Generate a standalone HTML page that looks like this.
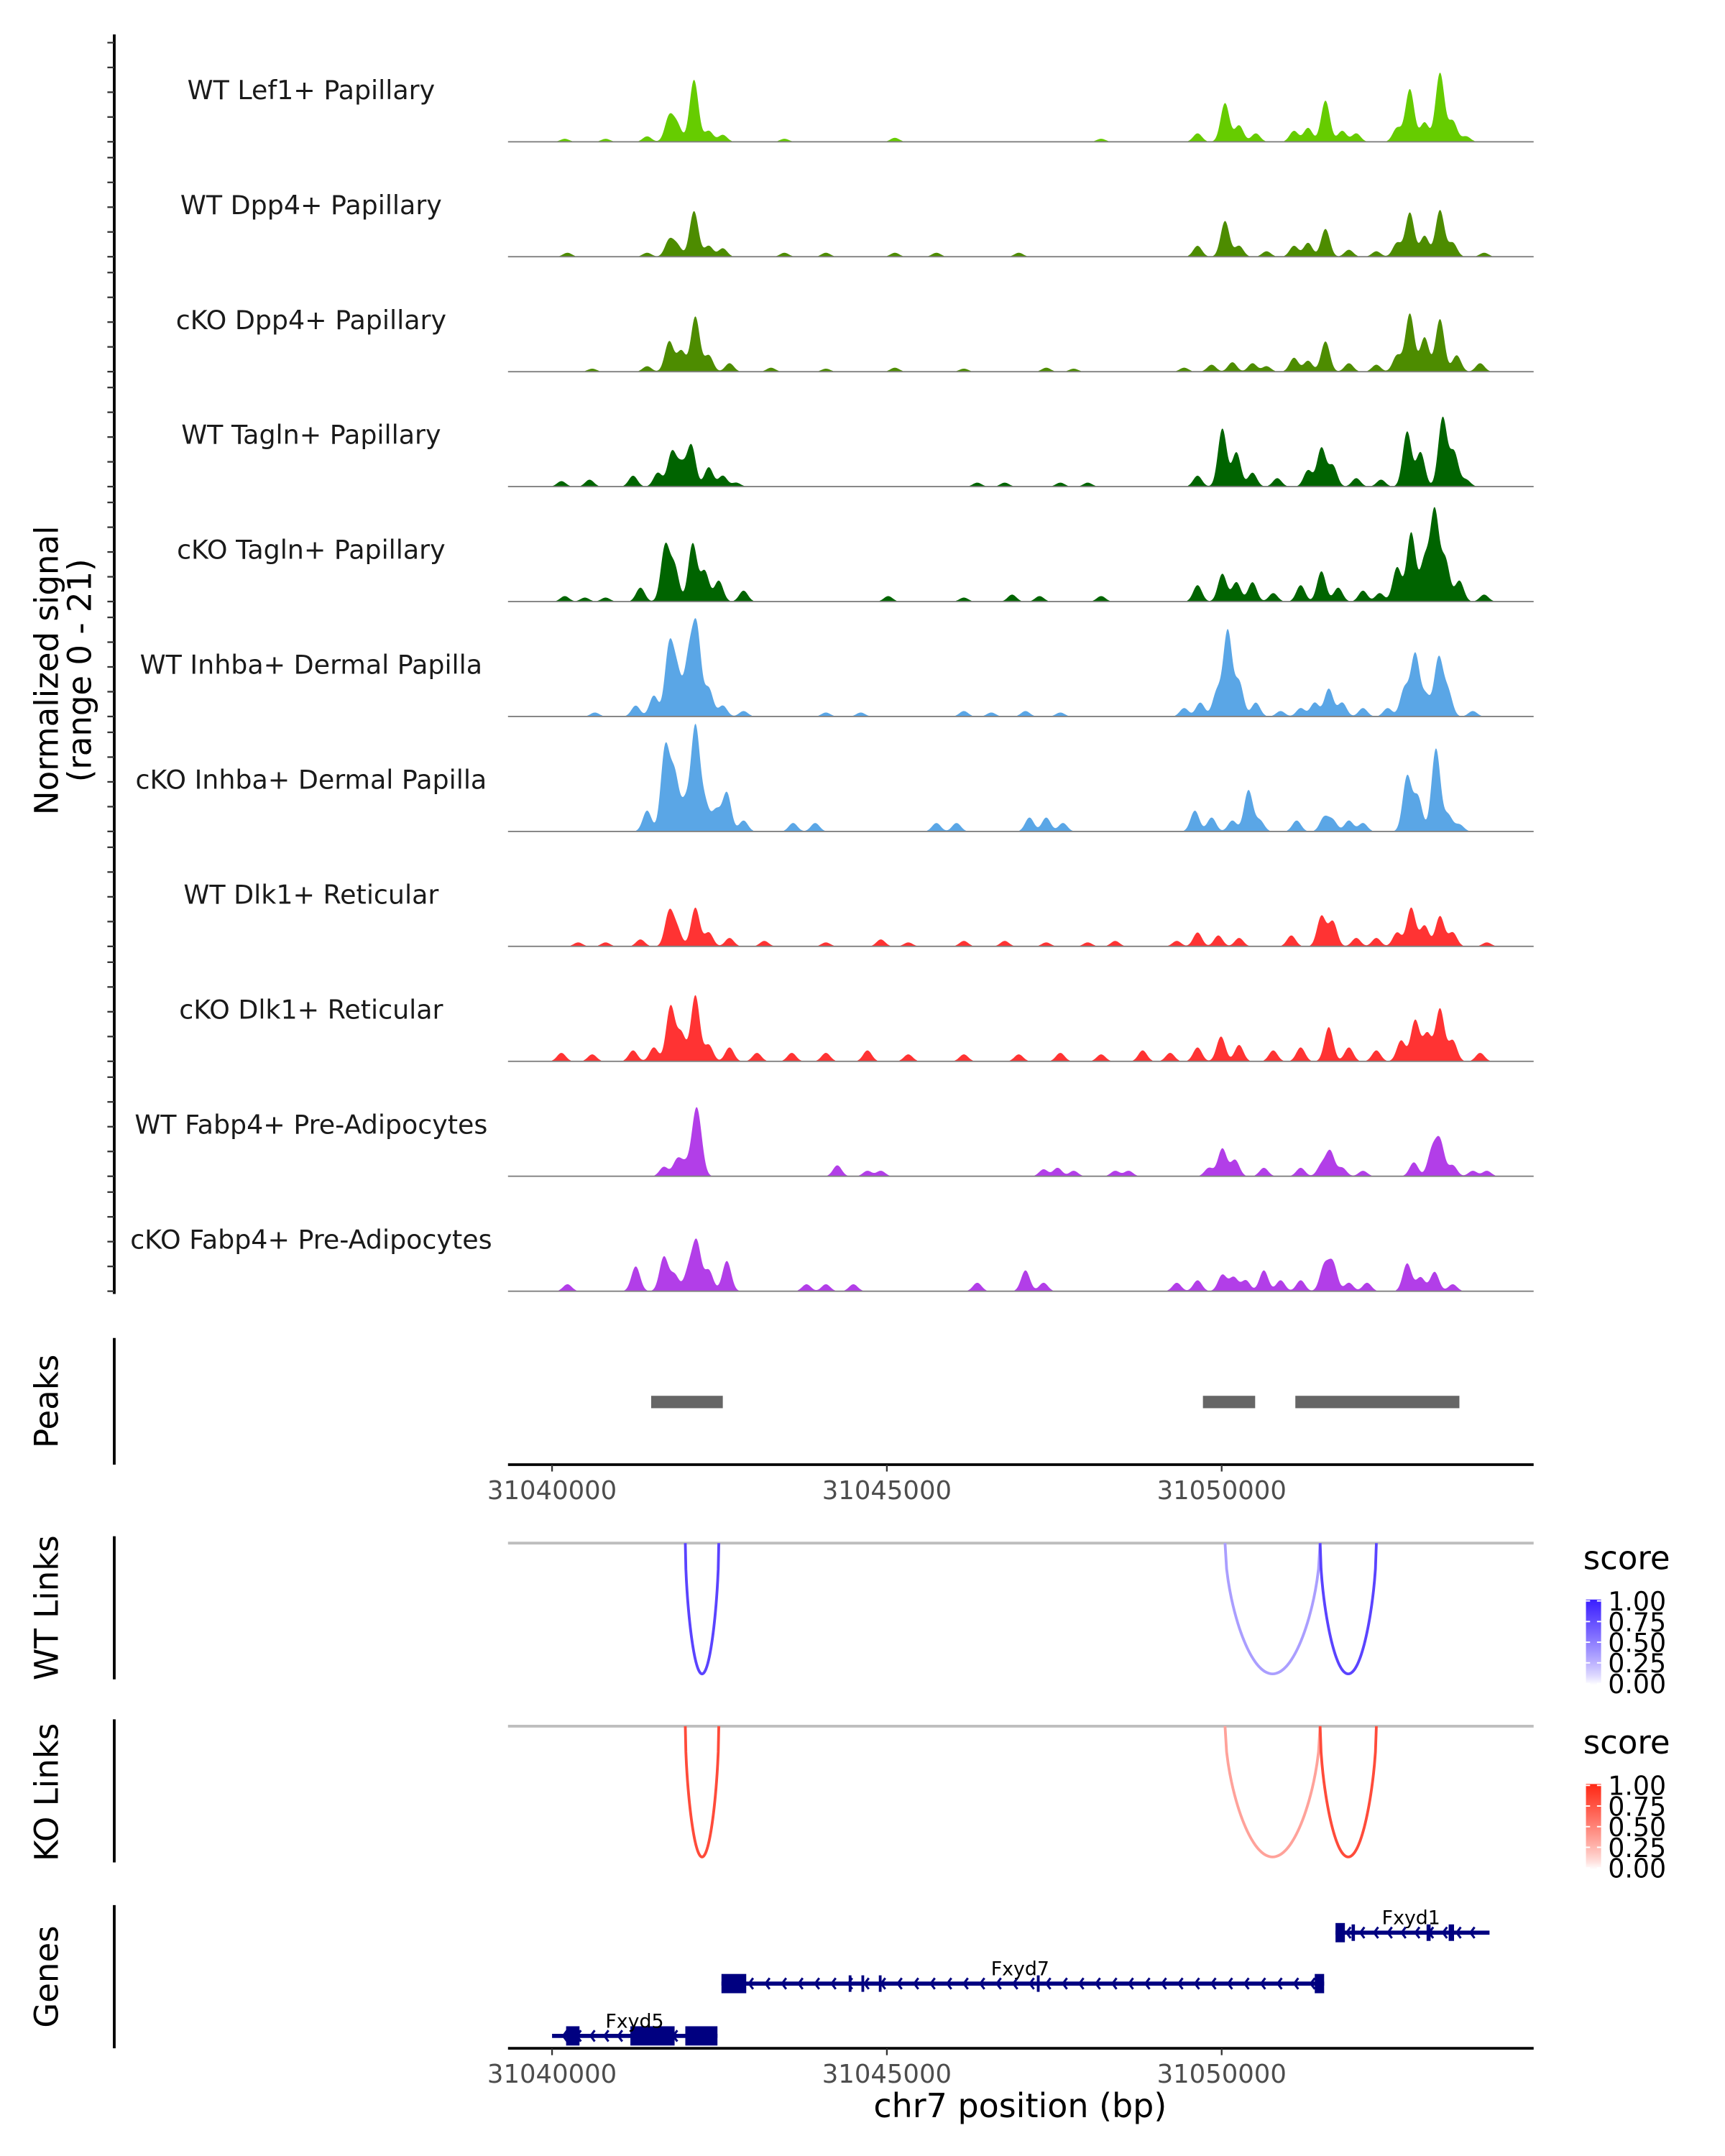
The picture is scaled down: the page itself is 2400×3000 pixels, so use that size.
<!DOCTYPE html>
<html><head><meta charset="utf-8"><style>
html,body{margin:0;padding:0;background:#fff;}
svg{display:block;font-family:"DejaVu Sans","Liberation Sans",sans-serif;}
</style></head><body>
<svg id="chart" width="2400" height="3000" viewBox="0 0 1253 1566.25" xmlns="http://www.w3.org/2000/svg">
<g id="g"></g>
</svg>
<script>
// ---------- data (positions in kb offset from 31,040,000 bp; signal in normalized units) ----------
const trackNames = ["WT Lef1+ Papillary","WT Dpp4+ Papillary","cKO Dpp4+ Papillary","WT Tagln+ Papillary","cKO Tagln+ Papillary","WT Inhba+ Dermal Papilla","cKO Inhba+ Dermal Papilla","WT Dlk1+ Reticular","cKO Dlk1+ Reticular","WT Fabp4+ Pre-Adipocytes","cKO Fabp4+ Pre-Adipocytes"];
const trackColors = ["#66cc00","#4d8c00","#4d8c00","#006400","#006400","#5aa6e6","#5aa6e6","#ff3333","#ff3333","#b23ee8","#b23ee8"];
const peaksPos1 = [1.42,1.75,1.87,2.12,2.34,2.55,0.19,0.80,3.47,5.12,8.20,9.64,10.05,10.26,10.51,11.08,11.29,11.55,11.80,12.01,12.62,12.81,13.03,13.26,13.45,13.65];
const peaksVal1 = [1.1,5.0,3.3,12.5,2.2,1.4,0.6,0.6,0.6,0.8,0.6,1.7,7.8,3.3,1.7,2.2,2.8,8.3,2.2,1.7,2.8,10.6,3.9,13.9,4.2,1.1];
const peaksPos2 = [0.23,1.42,1.75,1.87,2.12,2.34,2.55,3.47,4.09,5.12,5.74,6.97,9.64,10.05,10.26,10.67,11.08,11.29,11.55,11.90,12.31,12.62,12.81,13.03,13.26,13.45,13.92];
const peaksVal2 = [0.8,0.8,3.3,2.2,9.2,2.2,1.7,0.8,0.8,0.8,0.8,0.8,2.2,7.2,2.2,1.1,2.2,2.8,5.6,1.4,1.1,2.8,8.9,4.2,9.4,2.8,0.8];
const peaksPos3 = [0.60,1.42,1.75,1.93,2.14,2.34,2.65,3.27,4.09,5.12,6.15,7.38,7.79,9.44,9.85,10.16,10.46,10.67,11.08,11.29,11.55,11.90,12.31,12.62,12.81,13.03,13.26,13.51,13.86];
const peaksVal3 = [0.6,1.1,6.1,4.2,11.1,3.3,1.7,0.8,0.6,0.8,0.6,0.8,0.6,0.8,1.4,1.9,1.7,1.1,2.8,2.2,6.1,1.7,1.4,3.3,11.7,6.9,10.6,3.3,1.7];
const peaksPos4 = [0.14,0.56,1.21,1.58,1.79,1.93,2.08,2.34,2.55,2.75,6.35,6.76,7.59,8.00,9.64,10.01,10.22,10.46,10.83,11.29,11.49,11.66,12.01,12.38,12.77,12.97,13.30,13.47,13.65];
const peaksVal4 = [1.1,1.4,2.2,2.8,6.9,4.2,8.3,3.9,2.2,0.8,0.8,0.8,0.8,0.8,2.2,11.7,6.9,2.8,1.7,3.3,7.8,4.2,1.7,1.4,11.1,6.9,13.9,6.9,1.4];
const peaksPos5 = [0.19,0.49,0.80,1.32,1.69,1.83,2.10,2.28,2.49,2.86,5.02,6.15,6.87,7.28,8.20,9.64,10.01,10.22,10.46,10.77,11.18,11.49,11.74,12.11,12.36,12.62,12.83,13.03,13.18,13.34,13.55,13.92];
const peaksVal5 = [1.1,0.8,0.8,2.8,11.1,6.9,11.7,6.1,4.2,2.2,1.1,0.8,1.4,1.1,1.1,3.3,5.6,3.9,3.9,1.7,3.3,6.1,2.8,2.2,1.7,6.9,13.9,8.3,18.1,8.3,4.2,1.4];
const peaksPos6 = [0.64,1.25,1.52,1.75,1.87,2.04,2.16,2.34,2.55,2.86,4.09,4.61,6.15,6.56,7.07,7.59,9.44,9.68,9.93,10.09,10.26,10.51,10.88,11.18,11.39,11.60,11.80,12.11,12.48,12.73,12.89,13.05,13.24,13.38,13.75];
const peaksVal6 = [0.8,2.2,4.2,13.9,8.3,11.1,17.2,5.6,2.2,1.1,0.8,0.8,1.1,0.8,1.1,0.8,1.7,2.8,5.0,17.2,6.9,2.8,1.1,1.7,2.8,5.6,2.8,1.7,1.7,5.6,12.5,4.2,11.7,5.0,1.1];
const peaksPos7 = [1.42,1.69,1.83,1.99,2.14,2.28,2.45,2.61,2.86,3.60,3.93,5.74,6.04,7.13,7.38,7.63,9.60,9.85,10.16,10.40,10.57,11.12,11.53,11.66,11.90,12.11,12.77,12.93,13.20,13.38,13.55];
const peaksVal7 = [4.2,16.7,11.1,5.6,20.8,5.6,4.2,7.8,2.2,1.7,1.7,1.7,1.7,2.8,2.8,1.7,4.2,2.8,2.2,8.3,2.2,2.2,2.8,2.2,2.2,1.7,11.1,6.9,16.7,3.3,1.4];
const peaksPos8 = [0.39,0.80,1.32,1.75,1.87,2.14,2.34,2.65,3.17,4.09,4.91,5.32,6.15,6.76,7.38,8.00,8.41,9.33,9.64,9.95,10.26,11.04,11.49,11.66,12.01,12.31,12.62,12.83,13.03,13.26,13.45,13.96];
const peaksVal8 = [0.8,0.8,1.4,6.9,3.3,7.8,2.8,1.7,1.1,0.8,1.4,0.8,1.1,1.1,0.8,0.8,1.1,1.1,2.8,2.2,1.7,2.2,6.1,5.0,1.7,1.7,2.8,7.8,4.2,6.1,2.8,0.8];
const peaksPos9 = [0.14,0.60,1.21,1.52,1.77,1.93,2.14,2.34,2.65,3.06,3.58,4.09,4.71,5.32,6.15,6.97,7.59,8.20,8.82,9.23,9.64,9.99,10.26,10.77,11.18,11.60,11.90,12.31,12.68,12.89,13.07,13.26,13.45,13.86];
const peaksVal9 = [1.7,1.4,2.2,2.8,11.1,5.6,13.3,3.3,2.8,1.7,1.7,1.7,2.2,1.4,1.4,1.4,1.7,1.4,2.2,1.7,2.8,5.0,3.3,2.2,2.8,6.9,2.8,2.2,4.2,8.3,5.6,10.6,4.2,1.7];
const peaksPos10 = [1.67,1.87,1.99,2.14,2.20,4.26,4.71,4.91,7.34,7.55,7.79,8.41,8.61,9.81,10.01,10.20,10.63,11.18,11.49,11.62,11.80,12.11,12.87,13.14,13.26,13.45,13.75,13.96];
const peaksVal10 = [1.9,3.3,2.2,9.7,5.6,2.2,1.1,1.1,1.4,1.7,1.1,1.1,1.1,1.7,5.6,3.3,1.7,1.7,2.2,5.0,1.7,1.1,2.8,5.0,6.9,2.2,1.1,1.1];
const peaksPos11 = [0.23,1.25,1.67,1.83,2.04,2.16,2.34,2.61,3.80,4.09,4.50,6.35,7.07,7.34,9.33,9.64,10.01,10.18,10.36,10.63,10.88,11.18,11.53,11.66,11.90,12.17,12.77,12.97,13.18,13.45];
const peaksVal11 = [1.4,5.0,6.9,3.3,4.2,9.7,4.2,6.1,1.4,1.4,1.4,1.7,4.2,1.7,1.7,2.2,3.3,2.8,2.2,4.2,2.2,2.2,5.0,5.6,1.7,1.7,5.6,2.8,3.9,1.4];
const peakPosAll = [peaksPos1,peaksPos2,peaksPos3,peaksPos4,peaksPos5,peaksPos6,peaksPos7,peaksPos8,peaksPos9,peaksPos10,peaksPos11];
const peakValAll = [peaksVal1,peaksVal2,peaksVal3,peaksVal4,peaksVal5,peaksVal6,peaksVal7,peaksVal8,peaksVal9,peaksVal10,peaksVal11];
const yTicks = [0,5,10,15,20];
const callStarts = [1.48,9.72,11.10];
const callEnds = [2.55,10.50,13.55];
const xTickValues = [0,5,10];
const xTickLabels = ["31040000","31045000","31050000"];
const linkStarts = [1.99,10.05,11.47];
const linkEnds = [2.49,11.47,12.31];
const wtScores = [0.8,0.35,0.8];
const koScores = [0.8,0.35,0.8];
const legendLabels = ["1.00","0.75","0.50","0.25","0.00"];
const geneNames = ["Fxyd1","Fxyd7","Fxyd5"];
const geneStarts = [11.70,2.53,0.0];
const geneEnds = [14.00,11.53,2.47];
const geneExonStarts = [[11.70,11.94,13.06,13.39],[2.53,4.43,4.62,4.88,7.24,11.39],[0.21,1.17,1.99]];
const geneExonEnds = [[11.84,11.99,13.12,13.47],[2.90,4.47,4.66,4.92,7.28,11.53],[0.41,1.83,2.47]];
const geneExonTall = [[true,false,false,false],[true,false,false,false,false,true],[true,true,true]];

// ---------- scales ----------
const PX_PER_KB = 48.64, X0 = 401, PLOT_L = 369, PLOT_R = 1114;
function xScale(kb){ return X0 + kb*PX_PER_KB; }
function xInv(px){ return (px - X0)/PX_PER_KB; }
const SIG_PX = 3.6, TRACK_H = 83.5, FIRST_BASE = 103;
function baseY(i){ return FIRST_BASE + i*TRACK_H; }
function yScale(i,v){ return baseY(i) - v*SIG_PX; }

const NS = "http://www.w3.org/2000/svg";
const g = document.getElementById('g');
function mk(tag, attrs, parent){
  const e = document.createElementNS(NS, tag);
  for (const k in attrs) e.setAttribute(k, attrs[k]);
  (parent||g).appendChild(e); return e;
}
function txt(s, attrs, parent){ const e = mk('text', attrs, parent); e.textContent = s; return e; }

// ---------- left signal axis ----------
let ax = mk('line',{x1:83,y1:25,x2:83,y2:940,stroke:'#000','stroke-width':2});


for (let i=0;i<trackNames.length;i++){
  yTicks.forEach(t=>{
    const tk = mk('line',{x1:78,x2:83,y1:yScale(i,t),y2:yScale(i,t),stroke:'#333','stroke-width':1.2});
    
    
  });
}
let yt = txt("Normalized signal",{x:0,y:0,'font-size':23.5,'text-anchor':'middle',fill:'#000',transform:'translate(42,487) rotate(-90)'});


let yt2 = txt("(range 0 - 21)",{x:0,y:0,'font-size':23.5,'text-anchor':'middle',fill:'#000',transform:'translate(66,487) rotate(-90)'});



// ---------- coverage tracks ----------
const SIGMA = 0.065;
for (let i=0;i<trackNames.length;i++){
  const lab = txt(trackNames[i],{x:226,y:baseY(i)-31,'font-size':19,'text-anchor':'middle',fill:'#1a1a1a'});
  
  
  const pos = peakPosAll[i], val = peakValAll[i];
  let d = 'M'+PLOT_L+','+baseY(i);
  for (let px=PLOT_L; px<=PLOT_R; px+=0.5){
    const kb = xInv(px);
    let v = 0;
    for (let k=0;k<pos.length;k++){ const z=(kb-pos[k])/SIGMA; v += val[k]*Math.exp(-0.5*z*z); }
    if (v < 0.15) v = 0;
    d += 'L'+px.toFixed(1)+','+yScale(i,v).toFixed(2);
  }
  d += 'L'+PLOT_R+','+baseY(i)+'Z';
  const area = mk('path',{d:d,fill:trackColors[i],stroke:'none'});
  
  
  const bl = mk('line',{x1:PLOT_L,x2:PLOT_R,y1:baseY(i),y2:baseY(i),stroke:'#808080','stroke-width':1});
  
  
}

// ---------- peaks ----------
function sideTitle(s,cx,cy,name){
  const t = txt(s,{x:0,y:0,'font-size':23.5,'text-anchor':'middle',fill:'#000',transform:'translate('+cx+','+cy+') rotate(-90)'});
  
  
}
function sideLine(y1,y2,name){
  const l = mk('line',{x1:83,x2:83,y1:y1,y2:y2,stroke:'#000','stroke-width':2});
  
  
}
sideTitle("Peaks",42,1018,'peaks-title'); sideLine(972,1064,'peaks-axis');
for (let k=0;k<callStarts.length;k++){
  const r = mk('rect',{x:xScale(callStarts[k]),y:1014,width:xScale(callEnds[k])-xScale(callStarts[k]),height:9,fill:'#666'});
  
  
}
function xAxis(y,name){
  const l = mk('line',{x1:PLOT_L,x2:PLOT_R,y1:y,y2:y,stroke:'#000','stroke-width':2});
  
  
  xTickValues.forEach((v,j)=>{
    const t = mk('line',{x1:xScale(v),x2:xScale(v),y1:y,y2:y+5,stroke:'#333','stroke-width':1.2});
    
    
    const tl = txt(xTickLabels[j],{x:xScale(v),y:y+25,'font-size':18.5,'text-anchor':'middle',fill:'#4d4d4d'});
    
    
  });
}
xAxis(1064,'peaks-x-axis');

// ---------- links ----------
function col(s, end){
  const t = Math.pow(s,0.8);
  return 'rgb('+end.map(c=>Math.round(255-(255-c)*t)).join(',')+')';
}
function linkPanel(base, depth, scores, end, title, ty, name, legY){
  sideTitle(title,42,ty,name+'-title'); sideLine(base-5,base+99,name+'-axis');
  const bl = mk('line',{x1:PLOT_L,x2:PLOT_R,y1:base,y2:base,stroke:'#bebebe','stroke-width':2});
  
  
  for (let k=0;k<linkStarts.length;k++){
    const x1=xScale(linkStarts[k]), x2=xScale(linkEnds[k]);
    let d='';
    for (let s=0;s<=60;s++){
      const u=s/60, x=x1+(x2-x1)*u;
      const y=base+depth*Math.pow(Math.sin(Math.PI*u),0.55);
      d+=(s?'L':'M')+x.toFixed(2)+','+y.toFixed(2);
    }
    const p = mk('path',{d:d,fill:'none',stroke:col(scores[k],end),'stroke-width':2});
    
    
  }
  const lt = txt("score",{x:1150,y:legY,'font-size':23.5,fill:'#000'});
  
  
  const gid = 'grad'+name;
  const defs = mk('defs',{});
  const lg = mk('linearGradient',{id:gid,x1:0,y1:1,x2:0,y2:0},defs);
  for (let s=0;s<=10;s++) mk('stop',{offset:s/10,'stop-color':col(s/10,end)},lg);
  const bar = mk('rect',{x:1152,y:legY+22,width:11,height:62,fill:'url(#'+gid+')'});
  
  
  legendLabels.forEach((s,j)=>{
    const yy = legY+23+j*15;
    const tl = txt(s,{x:1168,y:yy+7,'font-size':19,fill:'#000'});
    
    
    mk('line',{x1:1152,x2:1155,y1:yy,y2:yy,stroke:'#fff','stroke-width':1});
    mk('line',{x1:1160,x2:1163,y1:yy,y2:yy,stroke:'#fff','stroke-width':1});
  });
}
linkPanel(1121,95,wtScores,[58,30,255],"WT Links",1168,'wt-links',1140);
linkPanel(1254,95,koScores,[255,40,20],"KO Links",1302,'ko-links',1274);

// ---------- genes ----------
sideTitle("Genes",42,1436,'genes-title'); sideLine(1384,1488,'genes-axis');
const geneY = [1404,1441,1479];
const geneLabelX = [1025,741,461];
for (let k=0;k<geneNames.length;k++){
  const y = geneY[k];
  const x1 = xScale(geneStarts[k]), x2 = xScale(geneEnds[k]);
  const ln = mk('line',{x1:x1,x2:x2,y1:y,y2:y,stroke:'#000080','stroke-width':3});
  
  
  for (let x=x1+8; x<x2-4; x+=(k==1?12:10)){
    const a = mk('path',{d:'M'+(x+3)+','+(y-4)+'L'+x+','+y+'L'+(x+3)+','+(y+4),fill:'none',stroke:'#000080','stroke-width':1.6});
    
    
  }
  geneExonStarts[k].forEach((s,j)=>{
    const tall = geneExonTall[k][j];
    const h = tall?14:12;
    const r = mk('rect',{x:xScale(s),y:y-h/2,width:Math.max(2,xScale(geneExonEnds[k][j])-xScale(s)),height:h,fill:'#000080'});
    
    
  });
  const gl = txt(geneNames[k],{x:geneLabelX[k],y:y-6,'font-size':14,'text-anchor':'middle',fill:'#000'});
  
  
}
xAxis(1488,'genes-x-axis');
const xt = txt("chr7 position (bp)",{x:741,y:1538,'font-size':24,'text-anchor':'middle',fill:'#000'});


</script>
</body></html>
